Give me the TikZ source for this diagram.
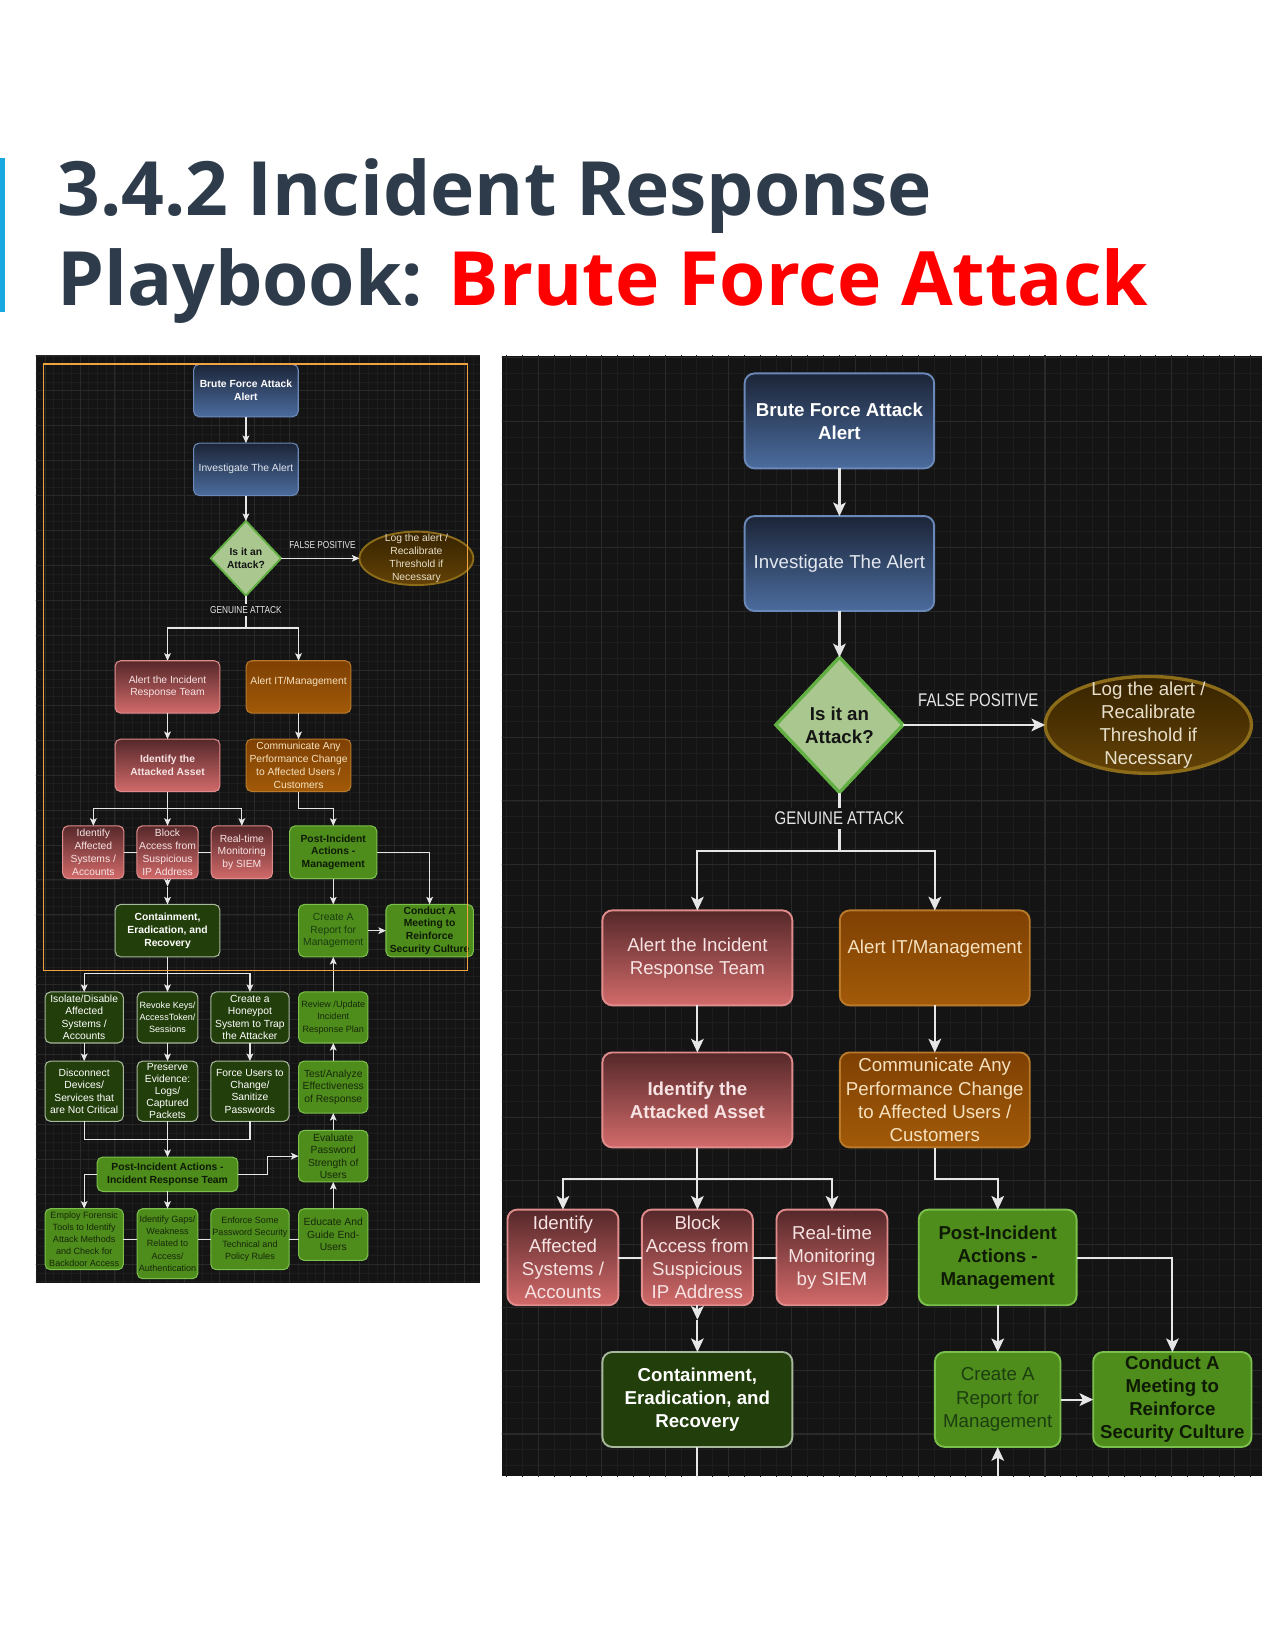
\documentclass[tikz,border=0pt]{standalone}
\usepackage{fontspec}
\setmainfont{Liberation Sans}
\newfontfamily\titlefont{Open Sans}
\newfontfamily\condfont{Liberation Sans}[FakeStretch=0.82]
\usetikzlibrary{shapes.geometric,arrows.meta}

\definecolor{blueT}{HTML}{1C2538}
\definecolor{blueB}{HTML}{4B6C9E}
\definecolor{blueD}{HTML}{6A88B8}
\definecolor{invTx}{HTML}{E3E8F0}
\definecolor{diaF}{HTML}{A9C78E}
\definecolor{diaD}{HTML}{62B043}
\definecolor{diaTx}{HTML}{141414}
\definecolor{logT}{HTML}{362300}
\definecolor{logB}{HTML}{634206}
\definecolor{logD}{HTML}{8C6C18}
\definecolor{logTx}{HTML}{E8DFCB}
\definecolor{redT}{HTML}{56282A}
\definecolor{redB}{HTML}{D26A6A}
\definecolor{redD}{HTML}{E08C8C}
\definecolor{redTx}{HTML}{F7E3E3}
\definecolor{orgT}{HTML}{7E4003}
\definecolor{orgB}{HTML}{A25A08}
\definecolor{orgD}{HTML}{B9792A}
\definecolor{orgTx}{HTML}{F6E1BF}
\definecolor{grn}{HTML}{4E8C1B}
\definecolor{grnD}{HTML}{7BBF4C}
\definecolor{grnTx}{HTML}{0E1A05}
\definecolor{repTx}{HTML}{1C3E10}
\definecolor{lowTx}{HTML}{17290B}
\definecolor{dgrn}{HTML}{223E0B}
\definecolor{dgrnD}{HTML}{A8B89C}
\definecolor{connc}{HTML}{E6E6E6}
\definecolor{panelbg}{HTML}{141414}
\definecolor{gminor}{HTML}{1D1D1D}
\definecolor{gmajor}{HTML}{292929}
\definecolor{orangeF}{HTML}{F2A341}
\definecolor{titlec}{HTML}{2E3B4A}
\definecolor{titlered}{HTML}{FF0000}
\definecolor{barc}{HTML}{19A9E1}

\newcommand{\myfbase}{\fontsize{4.9}{6.05}\selectfont}
\newcommand{\myfbold}{\fontsize{4.9}{6.05}\selectfont\bfseries}
\newcommand{\myflow}{\fontsize{4.9}{5.9}\selectfont}
\newcommand{\myfsmall}{\fontsize{4.3}{5.8}\selectfont}
\newcommand{\myfpres}{\fontsize{4.9}{5.7}\selectfont}
\newcommand{\myflbl}{\condfont\fontsize{4.8}{5.5}\selectfont}
\newif\iflowerpart

\tikzset{
  bord/.style={line width=0.5pt},
  dbord/.style={line width=0.9pt},
  rc/.style={rounded corners=2.6pt},
  ln/.style={draw=connc, line width=0.6pt},
  arr/.style={ln, -{Stealth[length=3.6pt,width=3.2pt,inset=0.8pt]}},
  gridminor/.style={draw=gminor, line width=0.25pt},
  gridmajor/.style={draw=gmajor, line width=0.35pt},
  sz/.style 2 args={minimum width=#1*0.5pt, minimum height=#2*0.5pt},
  base/.style={draw, align=center, inner sep=0pt, outer sep=0pt, font=\myfbase, rc, bord},
  bluebox/.style={base, top color=blueT, bottom color=blueB, draw=blueD, text=white},
  redbox/.style={base, top color=redT, bottom color=redB, draw=redD, text=redTx},
  orgbox/.style={base, top color=orgT, bottom color=orgB, draw=orgD, text=orgTx},
  gbox/.style={base, fill=grn, draw=grnD, text=grnTx},
  dgbox/.style={base, fill=dgrn, draw=dgrnD, text=white},
  diam/.style={diamond, draw=diaD, fill=diaF, text=diaTx, inner sep=0pt, outer sep=0pt, align=center, font=\myfbold, dbord},
  logell/.style={ellipse, draw=logD, top color=logT, bottom color=logB, inner sep=0pt, outer sep=0pt, dbord},
  logtxt/.style={align=center, inner sep=0pt, text=logTx, font=\myfbase},
  lbl/.style={inner sep=1pt, text=connc, font=\myflbl},
}

\newcommand{\bfdiagram}{%
  \foreach \i in {0,...,52} {\draw[gridminor] ({26.1+8.3*\i},330) -- ({26.1+8.3*\i},1225);}
  \foreach \j in {0,...,108} {\draw[gridminor] (26,{329.8+8.3*\j}) -- (458,{329.8+8.3*\j});}
  \foreach \i in {0,...,14} {\draw[gridmajor] ({9.5+33.2*\i},330) -- ({9.5+33.2*\i},1225);}
  \foreach \j in {0,...,28} {\draw[gridmajor] (26,{304.9+33.2*\j}) -- (458,{304.9+33.2*\j});}
  % nodes
  \node[bluebox, sz={99.4}{49.8}, font=\myfbold] (brute) at (233.7,371.2) {Brute Force Attack\\Alert};
  \node[bluebox, sz={99.4}{49.8}, text=invTx] (invest) at (233.7,446.0) {Investigate The Alert};
  \node[diam, minimum width=66.7*0.5pt, minimum height=70.9*0.5pt] (dia) at (233.7,530.6) {Is it an\\Attack?};
  \node[logell, sz={108.2}{50.8}] (log) at (395.7,530.6) {};
  \node[logtxt] (logt) at (log.center) {Log the alert /\\Recalibrate\\Threshold if\\Necessary};
  \node[lbl] (fp) at (306.5,517.7) {FALSE POSITIVE};
  \node[redbox, sz={99.6}{49.8}] (alertir) at (159.2,652.8) {Alert the Incident\\Response Team};
  \node[orgbox, sz={99.6}{49.8}] (alertit) at (283.7,652.8) {Alert IT/Management\\\mbox{}};
  \node[redbox, sz={99.6}{49.8}, font=\myfbold] (identasset) at (159.2,727.3) {Identify the\\Attacked Asset};
  \node[orgbox, sz={99.6}{49.8}] (comm) at (283.7,727.3) {Communicate Any\\Performance Change\\to Affected Users /\\Customers};
  \node[redbox, sz={58.2}{50.2}] (identaff) at (88.7,809.9) {Identify\\Affected\\Systems /\\Accounts};
  \node[redbox, sz={58.2}{50.2}] (block) at (159.2,809.9) {Block\\Access from\\Suspicious\\IP Address};
  \node[redbox, sz={58.2}{50.2}] (realtime) at (229.8,809.9) {Real-time\\Monitoring\\by SIEM};
  \node[gbox, sz={82.8}{50.2}, font=\myfbold] (postmgmt) at (316.7,809.9) {Post-Incident\\Actions -\\Management};
  \node[dgbox, sz={99.6}{49.8}, font=\myfbold] (contain) at (159.2,884.4) {Containment,\\Eradication, and\\Recovery};
  \node[gbox, sz={65.9}{49.8}, text=repTx] (report) at (316.7,884.4) {Create A\\Report for\\Management};
  \node[gbox, sz={83}{49.8}, font=\myfbold] (conduct) at (408.3,884.4) {Conduct A\\Meeting to\\Reinforce\\Security Culture};
  % upper connectors
  \draw[arr] (brute.south) -- (invest.north);
  \draw[arr] (invest.south) -- (dia.north);
  \draw[arr] (dia.east) -- (log.west);
  \coordinate (br1) at (233.7,596.7);
  \draw[ln] (dia.south) -- (br1);
  \draw[arr] (br1) -| (alertir.north);
  \draw[arr] (br1) -| (alertit.north);
  \node[lbl, fill=panelbg] (ga) at (233.7,579.8) {GENUINE ATTACK};
  \draw[arr] (alertir.south) -- (identasset.north);
  \draw[arr] (alertit.south) -- (comm.north);
  \coordinate (br2) at (159.2,768.6);
  \draw[ln] (identasset.south) -- (br2);
  \draw[arr] (br2) -| (identaff.north);
  \draw[arr] (br2) -- (block.north);
  \draw[arr] (br2) -| (realtime.north);
  \draw[arr] (comm.south) -- ++(0,16.4) -| (postmgmt.north);
  \draw[ln] (identaff.east) -- (block.west);
  \draw[ln] (block.east) -- (realtime.west);
  \coordinate (bk) at (159.2,842.5);
  \draw[arr] (block.south) -- (bk);
  \draw[arr] (bk) -- (contain.north);
  \draw[arr] (postmgmt.south) -- (report.north);
  \draw[arr] (postmgmt.east) -| (conduct.north);
  \draw[arr] (report.east) -- (conduct.west);
  \iflowerpart
  % lower nodes
  \node[dgbox, sz={74.4}{48.5}, font=\myflow] (isolate) at (80.0,966.9) {Isolate/Disable\\Affected\\Systems /\\Accounts};
  \node[dgbox, sz={57.7}{48.5}, font=\myfsmall] (revoke) at (159.2,966.9) {Revoke Keys/\\AccessToken/\\Sessions};
  \node[dgbox, sz={74.4}{48.5}, font=\myflow] (honeypot) at (237.5,966.9) {Create a\\Honeypot\\System to Trap\\the Attacker};
  \node[gbox, sz={65.9}{48.5}, font=\myfsmall, text=lowTx] (review) at (316.7,966.9) {Review /Update\\Incident\\Response Plan};
  \node[dgbox, sz={74.4}{57.3}, font=\myflow] (disconnect) at (80.0,1037) {Disconnect\\Devices/\\Services that\\are Not Critical};
  \node[dgbox, sz={57.7}{57.3}, font=\myfpres] (preserve) at (159.2,1037) {Preserve\\Evidence:\\Logs/\\Captured\\Packets};
  \node[dgbox, sz={74.4}{57.3}, font=\myflow] (force) at (237.5,1037) {Force Users to\\Change/\\Sanitize\\Passwords};
  \node[gbox, sz={65.9}{49.4}, font=\myflow, text=lowTx] (test) at (316.7,1033) {Test/Analyze\\Effectiveness\\of Response};
  \node[gbox, sz={133.7}{32.7}, font=\myfbold] (postir) at (159.2,1115.9) {Post-Incident Actions -\\Incident Response Team};
  \node[gbox, sz={65.9}{49}, font=\myflow, text=lowTx] (evaluate) at (316.7,1098.7) {Evaluate\\Password\\Strength of\\Users};
  \node[gbox, sz={74.4}{58}, font=\myfsmall, text=lowTx] (employ) at (80.0,1177.6) {Employ Forensic\\Tools to Identify\\Attack Methods\\and Check for\\Backdoor Access};
  \node[gbox, sz={57.7}{66.5}, font=\myfsmall, text=lowTx] (gaps) at (159.2,1181.9) {Identify Gaps/\\Weakness\\Related to\\Access/\\Authentication};
  \node[gbox, sz={74.4}{58}, font=\myfsmall, text=lowTx] (enforce) at (237.5,1177.6) {Enforce Some\\Password Security\\Technical and\\Policy Rules};
  \node[gbox, sz={65.9}{49.1}, font=\myflow, text=lowTx] (educate) at (316.7,1173.2) {Educate And\\Guide End-\\Users};
  % lower connectors
  \coordinate (br3) at (159.2,925.2);
  \draw[ln] (contain.south) -- (br3);
  \draw[arr] (br3) -| (isolate.north);
  \draw[arr] (br3) -- (revoke.north);
  \draw[arr] (br3) -| (honeypot.north);
  \draw[arr] (isolate.south) -- (disconnect.north);
  \draw[arr] (revoke.south) -- (preserve.north);
  \draw[arr] (honeypot.south) -- (force.north);
  \coordinate (br4) at (159.2,1082.7);
  \draw[ln] (disconnect.south) |- (br4) -| (force.south);
  \draw[arr] (preserve.south) -- (postir.north);
  \draw[arr] (postir.east) -- ++(28.5,0) |- (evaluate.west);
  \draw[arr] (postir.west) -| (employ.north);
  \draw[arr] (postir.south) -- (gaps.north);
  \draw[ln] (employ.east) -- (employ.east -| gaps.west);
  \draw[ln] (gaps.east |- enforce.west) -- (enforce.west);
  \draw[ln] (enforce.east) -- (educate.west |- enforce.east);
  \draw[arr] (educate.north) -- (evaluate.south);
  \draw[arr] (evaluate.north) -- (test.south);
  \draw[arr] (test.north) -- (review.south);
  \draw[arr] (review.north) -- (report.south);
  \else
  \coordinate (cdown) at (159.2,945);
  \draw[ln] (contain.south) -- (cdown);
  \coordinate (rup) at (316.7,945);
  \draw[arr] (rup) -- (report.south);
  \fi
}

\begin{document}
\begin{tikzpicture}[x=0.5pt,y=-0.5pt]
  \useasboundingbox (0,0) rectangle (1212,1568);
  \fill[white] (0,0) rectangle (1212,1568);
  % title
  \fill[barc] (0,150) rectangle (5,296.6);
  \node[anchor=base west, inner sep=0pt, font=\titlefont\bfseries\fontsize{35.6}{40}\selectfont, text=titlec] (t1) at (54,204.4) {3.4.2 Incident Response};
  \node[anchor=base west, inner sep=0pt, font=\titlefont\bfseries\fontsize{35.6}{40}\selectfont, text=titlec] (t2) at (54,290) {Playbook: \textcolor{titlered}{Brute Force Attack}};
  % left panel
  \fill[panelbg] (34,338) rectangle (456,1219);
  \lowerparttrue
  \begin{scope}[name prefix=L-]
    \clip (34,338) rectangle (456,1219);
    \bfdiagram
    \draw[orangeF, line width=0.6pt] (41.2,346.0) rectangle (444.6,922);
  \end{scope}
  % right panel
  \fill[panelbg] (477,338) rectangle (1199,1403);
  \lowerpartfalse
  \begin{scope}
    \clip (477,338) rectangle (1199,1403);
    \begin{scope}[name prefix=R-, shift={(797.7,400)}, scale=1.812, shift={(-233.7,-371.2)}, transform shape,
      bord/.style={line width=0.9pt},
      dbord/.style={line width=1.6pt},
      rc/.style={rounded corners=4.7pt},
      ln/.style={draw=connc, line width=1pt},
      arr/.style={ln, -{Stealth[length=6.5pt,width=6pt,inset=1.5pt]}},
      gridminor/.style={draw=gminor, line width=0.4pt},
      gridmajor/.style={draw=gmajor, line width=0.5pt}]
      \bfdiagram
    \end{scope}
  \end{scope}
\end{tikzpicture}
\end{document}
